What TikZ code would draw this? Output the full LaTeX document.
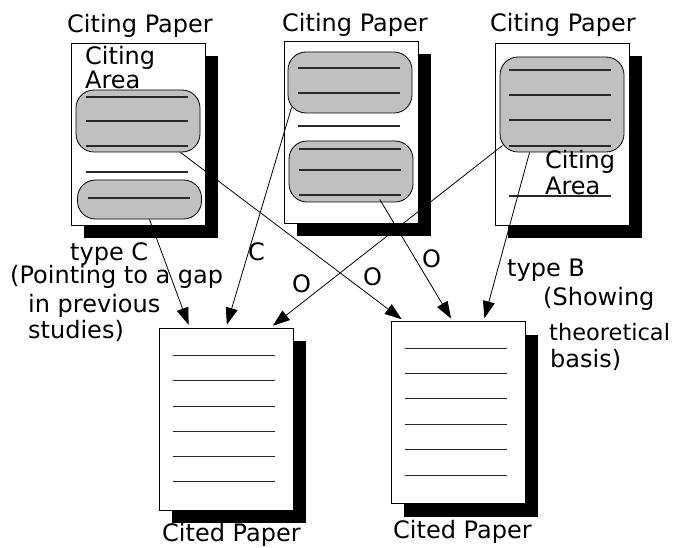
\documentclass[tikz,border=0pt]{standalone}
\usepackage{fontspec}
\setmainfont{DejaVu Sans}
\usetikzlibrary{arrows.meta,shadows,calc}

\definecolor{areagray}{RGB}{192,192,192}
\definecolor{linegray}{RGB}{40,40,40}

\tikzset{
  paper/.style={draw, fill=white, line width=0.8pt, inner sep=0pt,
    minimum width=134pt, minimum height=182pt,
    drop shadow={shadow xshift=13pt, shadow yshift=-13pt, fill=black, opacity=1}},
  area/.style={draw, fill=areagray, rounded corners=18pt, line width=0.8pt,
    inner sep=0pt, minimum width=124pt},
  textline/.style={line width=1.1pt, linegray},
  cite/.style={-{Triangle[length=17pt,width=12pt]}, line width=0.8pt, shorten >=3pt},
  lbl/.style={anchor=base west, inner sep=0pt, font=\fontsize{24}{28}\selectfont},
}

\begin{document}
\begin{tikzpicture}[x=1pt, y=-1pt]
	
	\useasboundingbox (0,0) rectangle (677,548);
	
	% Papers
	\node[paper] (citing1) at (138,134) {};
	\node[paper] (citing2) at (351,132) {};
	\node[paper] (citing3) at (562,134) {};
	\node[paper] (cited1) at (226,419) {};
	\node[paper] (cited2) at (458,412.5) {};
	
	% Citing areas
	\node[area, minimum height=62pt] (areaA) at (138,121) {};
	\node[area, minimum height=39pt] (areaB) at (139.5,199.5) {};
	\node[area, minimum height=61pt] (areaC) at (350,82.5) {};
	\node[area, minimum height=61pt] (areaD) at (351,171.5) {};
	\node[area, minimum height=95pt] (areaE) at (562,104.5) {};
	
	% Text lines
	\foreach \y in {97,121,146,172}
		\draw[textline] (86,\y) -- (188,\y);
	\draw[textline] (88,198) -- (190,198);
	\foreach \y in {68,93,126}
		\draw[textline] (298,\y) -- (400,\y);
	\foreach \y in {149,170,195}
		\draw[textline] (299,\y) -- (401,\y);
	\foreach \y in {70,95,120,146,196}
		\draw[textline] (509,\y) -- (611,\y);
	\foreach \i in {0,...,5} {
		\draw[textline, line width=0.9pt] ($(cited1.north west)+(14,28+25.2*\i)$) -- ++(102,0);
		\draw[textline, line width=0.9pt] ($(cited2.north west)+(14,27+25.4*\i)$) -- ++(102,0);
	}
	
	% Titles
	\node[lbl] at (67,33) {Citing Paper};
	\node[lbl] at (282,32) {Citing Paper};
	\node[lbl] at (490,32) {Citing Paper};
	\node[lbl] at (85,65) {Citing};
	\node[lbl] at (85,89) {Area};
	\node[lbl] at (545,169) {Citing};
	\node[lbl] at (545,195) {Area};
	\node[lbl] at (162,541) {Cited Paper};
	\node[lbl] at (393,538) {Cited Paper};
	
	% Citations
	\draw[cite] ($(areaB.south west)!0.58!(areaB.south east)$)
		-- ($(cited1.north west)!0.23!(cited1.north east)$);
	\draw[cite] ($(areaC.south west)+(4,-6)$)
		-- ($(cited1.north west)!0.5!(cited1.north east)$);
	\draw[cite] ($(areaE.south west)+(3,-7)$)
		-- ($(cited1.north west)!0.83!(cited1.north east)$);
	\draw[cite] ($(areaA.south west)!0.84!(areaA.south east)$)
		-- ($(cited2.north west)!0.1!(cited2.north east)$);
	\draw[cite] ($(areaD.south west)!0.73!(areaD.south east)+(0,-3)$)
		-- ($(cited2.north west)!0.46!(cited2.north east)$);
	\draw[cite] ($(areaE.south west)!0.24!(areaE.south east)$)
		-- ($(cited2.north west)!0.69!(cited2.north east)$);
	
	% Labels
	\node[lbl] at (70,260) {type C};
	\node[lbl] at (10,283) {(Pointing to a gap};
	\node[lbl] at (28,312) {in previous};
	\node[lbl] at (28,338) {studies)};
	\node[lbl] at (248,260) {C};
	\node[lbl] at (292,292) {O};
	\node[lbl] at (363,285) {O};
	\node[lbl] at (422,267) {O};
	\node[lbl] at (507,276) {type B};
	\node[lbl] at (543,305) {(Showing};
	\node[lbl, font=\fontsize{22.5}{26}\selectfont] at (549,340) {theoretical};
	\node[lbl] at (550,367) {basis)};
	
\end{tikzpicture}
\end{document}
